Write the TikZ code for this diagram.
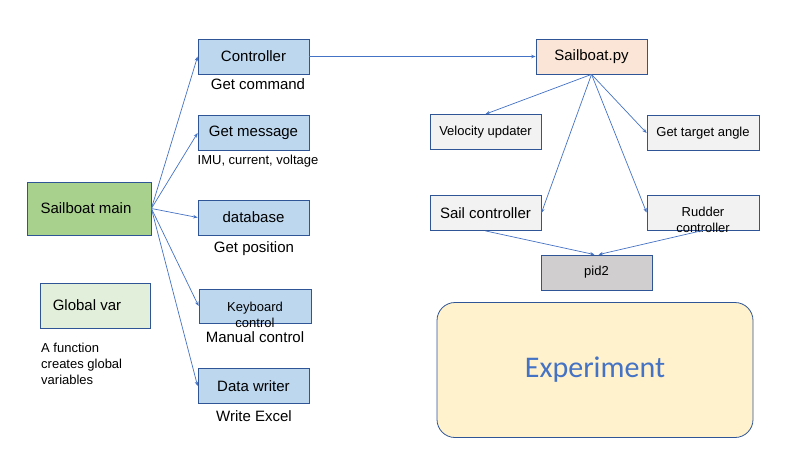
\documentclass[tikz,border=0pt]{standalone}
\usepackage{fontspec}
\setmainfont{Liberation Sans}
\newfontfamily\expfont{Carlito}
\usetikzlibrary{arrows.meta}
\definecolor{bord}{HTML}{2F5597}
\definecolor{arr}{HTML}{4472C4}
\definecolor{bluef}{HTML}{BDD7EE}
\definecolor{greenf}{HTML}{A9D18E}
\definecolor{lgreenf}{HTML}{E2EFDA}
\definecolor{peachf}{HTML}{FBE5D6}
\definecolor{greyf}{HTML}{F2F2F2}
\definecolor{pidf}{HTML}{D0CECE}
\definecolor{expf}{HTML}{FFF2CC}
\tikzset{
  box/.style={draw=bord, line width=0.8pt, inner sep=0pt, minimum width=111pt, minimum height=35pt, font=\fontsize{15}{16}\selectfont},
  bigf/.style={font=\fontsize{15}{16}\selectfont},
  smallf/.style={font=\fontsize{13}{16}\selectfont},
  conn/.style={draw=arr, line width=0.7pt, -{Stealth[length=4.5pt,width=3.5pt]}},
  note/.style={inner sep=0pt}
}
\begin{document}
\begin{tikzpicture}[x=1pt,y=-1pt]
\useasboundingbox (0,0) rectangle (800,450);
% left column
\node[box, fill=greenf, minimum width=124pt, minimum height=53pt] (main) at (89,208.5) {Sailboat main\hspace*{6pt}};
\node[box, fill=lgreenf, minimum width=110pt, minimum height=45pt] (gv) at (95,305.5) {Global var\hspace*{16pt}};
\node[note, smallf, align=left, anchor=north west] (gvnote) at (41,343) {A function\\creates global\\variables};

\node[box, fill=bluef] (ctrl) at (253.5,56.5) {Controller};
\node[note, bigf] (ctrll) at (258,84) {Get command};
\node[box, fill=bluef] (msg) at (253.5,133) {Get message};
\node[note, smallf] (msgl) at (258,161) {IMU, current, voltage};
\node[box, fill=bluef] (db) at (253.5,217.5) {database};
\node[note, bigf] (dbl) at (254,249) {Get position};
\node[box, fill=bluef, minimum width=112pt, minimum height=34pt] (kb) at (255,306) {};
\node[note, smallf, align=center] (kbt) at (255,315) {Keyboard\\control};
\node[note, bigf] (kbl) at (255,337) {Manual control};
\node[box, fill=bluef] (dw) at (253.5,386) {Data writer};
\node[note, bigf] (dwl) at (254,416) {Write Excel};

% right part
\node[box, fill=peachf] (py) at (591.5,56.5) {Sailboat.py};
\node[box, fill=greyf, smallf] (vel) at (485.5,132) {Velocity updater};
\node[box, fill=greyf, smallf, minimum width=112pt] (gta) at (703,133) {Get target angle};
\node[box, fill=greyf] (sail) at (485.5,213) {Sail controller};
\node[box, fill=greyf, minimum width=112pt] (rud) at (703,212.5) {};
\node[note, smallf, align=center] (rudt) at (703,220) {Rudder\\controller};
\node[box, fill=pidf, smallf] (pid) at (596.5,272.5) {pid2};
\node[draw=bord, line width=0.8pt, fill=expf, rounded corners=18pt, minimum width=316pt, minimum height=135pt, inner sep=0pt, text=arr, font=\expfont\fontsize{30}{36}\selectfont] (exp) at (595,370) {Experiment};

% connectors
\draw[conn] (main.east) -- (ctrl.west);
\draw[conn] (main.east) -- (msg.west);
\draw[conn] (main.east) -- (db.west);
\draw[conn] (main.east) -- (kb.west);
\draw[conn] (main.east) -- (dw.west);
\draw[conn] (ctrl.east) -- (py.west);
\draw[conn] (py.south) -- (vel.north);
\draw[conn] (py.south) -- (gta.west);
\draw[conn] (py.south) -- (sail.east);
\draw[conn] (py.south) -- (rud.west);
\draw[conn] (sail.south) -- ([xshift=-2pt]pid.north);
\draw[conn] (rud.south) -- ([xshift=2pt]pid.north);
\end{tikzpicture}
\end{document}
